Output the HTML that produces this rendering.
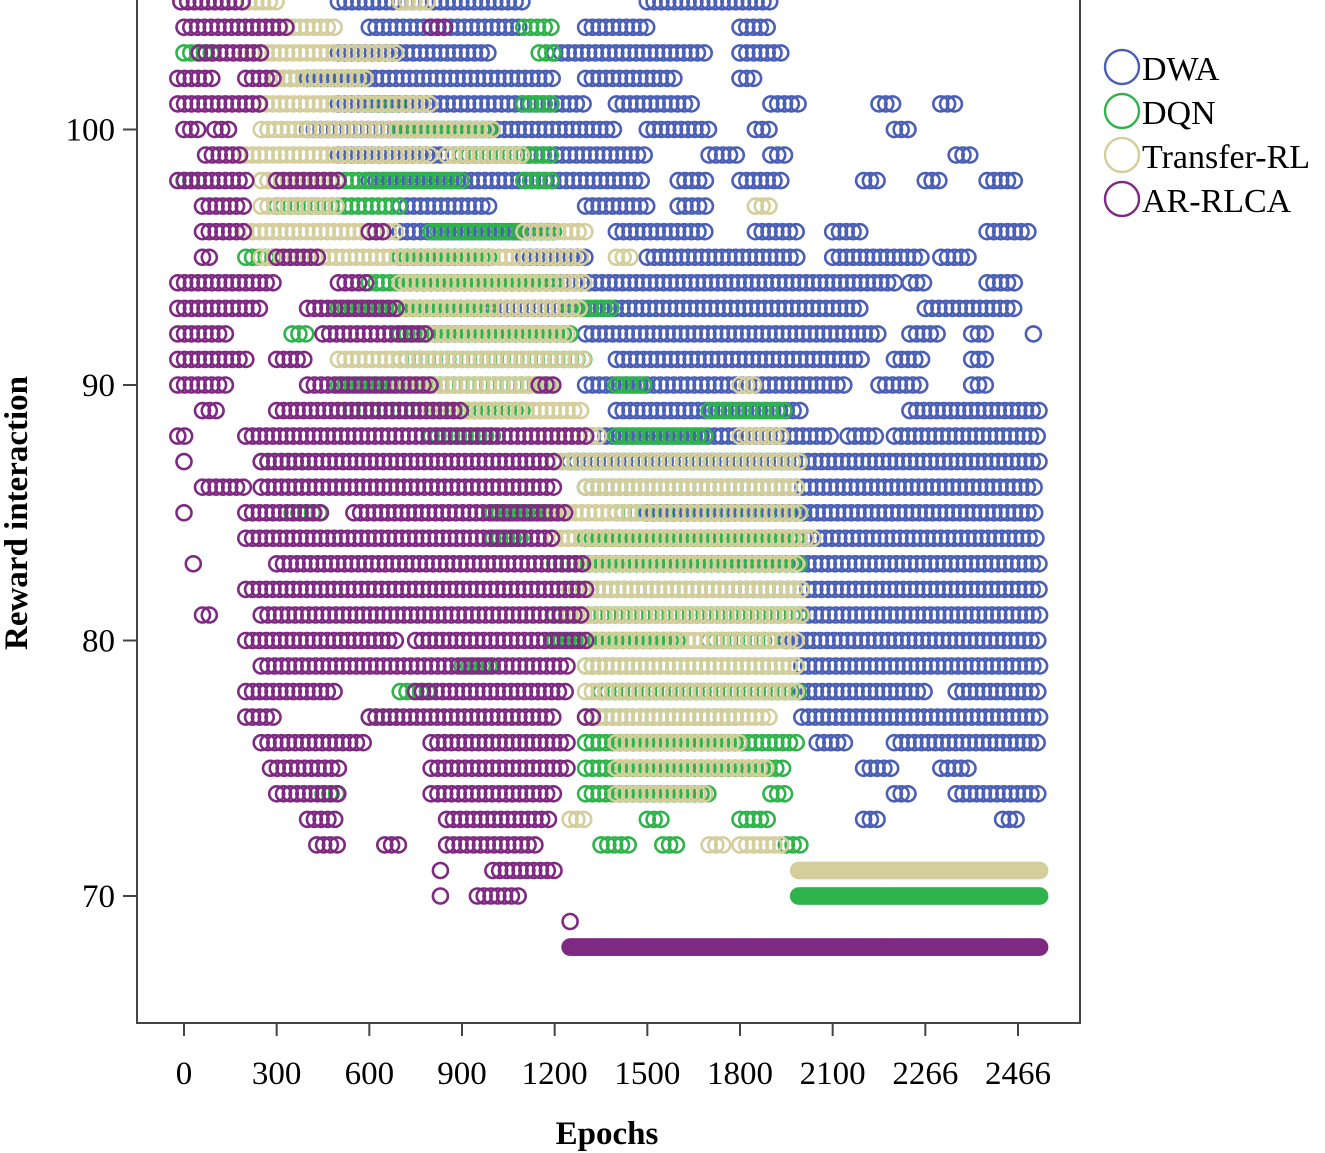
<!DOCTYPE html>
<html><head><meta charset="utf-8"><style>
body{margin:0;background:#fff}
svg{display:block;font-family:"Liberation Serif",serif}
</style></head><body>
<svg id="chart" width="1325" height="1153" viewBox="0 0 1325 1153">
<rect x="137" y="-1" width="943" height="1024" fill="#fff" stroke="#444" stroke-width="2"/>
<g id="marks"></g>
<g id="axes"></g>
<text transform="translate(27,513) rotate(-90)" text-anchor="middle" font-size="33" font-weight="bold">Reward interaction</text>
<text x="607" y="1144" text-anchor="middle" font-size="33" font-weight="bold">Epochs</text>
<g id="legend"></g>
</svg>
<script>
const seriesNames=["DWA","DQN","Transfer-RL","AR-RLCA"];
const seriesColors=["#4a5fb5","#2fb44b","#d4ce9c","#7f2a82"];
const xTickValues=[0,300,600,900,1200,1500,1800,2100,2400,2700];
const xTickLabels=["0","300","600","900","1200","1500","1800","2100","2266","2466"];
const yTickValues=[70,80,90,100];
// per series: rows of [rewardValue, [[epochStart,epochEnd],...]]
const dwaRows=[[105,[[500,1100],[1500,1900]]],[104,[[600,1100],[1300,1500],[1800,1900]]],[103,[[500,1000],[1200,1700],[1800,1950]]],[102,[[400,1200],[1300,1600],[1800,1850]]],[101,[[500,1300],[1400,1650],[1900,2000],[2250,2300],[2450,2500]]],[100,[[400,1400],[1500,1700],[1850,1900],[2300,2350]]],[99,[[500,1500],[1700,1800],[1900,1950],[2500,2550]]],[98,[[600,1500],[1600,1700],[1800,1950],[2200,2250],[2400,2450],[2600,2700]]],[97,[[700,1000],[1300,1500],[1600,1700]]],[96,[[700,1200],[1400,1700],[1850,2000],[2100,2200],[2600,2750]]],[95,[[1100,1300],[1500,2000],[2100,2400],[2450,2550]]],[94,[[1200,2300],[2350,2400],[2600,2700]]],[93,[[1000,2200],[2400,2700]]],[92,[[1300,2250],[2350,2450],[2550,2600],[2750,2770]]],[91,[[1400,2200],[2300,2400],[2550,2600]]],[90,[[1300,2150],[2250,2400],[2550,2600]]],[89,[[1400,2000],[2350,2770]]],[88,[[1300,2100],[2150,2250],[2300,2770]]],[87,[[1250,2770]]],[86,[[1300,2770]]],[85,[[1500,2770]]],[84,[[1900,2770]]],[83,[[1800,2770]]],[82,[[1800,2770]]],[81,[[2000,2770]]],[80,[[1950,2770]]],[79,[[2000,2770]]],[78,[[2000,2400],[2500,2770]]],[77,[[2000,2770]]],[76,[[2050,2150],[2300,2770]]],[75,[[2200,2300],[2450,2550]]],[74,[[2300,2350],[2500,2770]]],[73,[[2200,2250],[2650,2700]]]];
const dqnRows=[[104,[[1100,1200]]],[103,[[0,100],[1150,1200]]],[102,[[300,600]]],[101,[[600,700],[1100,1200]]],[100,[[700,1000]]],[99,[[900,1200]]],[98,[[0,50],[500,900],[1100,1200]]],[97,[[300,700]]],[96,[[800,1200]]],[95,[[200,300],[700,1000]]],[94,[[600,1200]]],[93,[[500,1000],[1250,1400]]],[92,[[350,400],[700,1250]]],[91,[[700,1300]]],[90,[[500,1200],[1400,1500]]],[89,[[500,1100],[1700,1950]]],[88,[[800,1000],[1400,1700]]],[87,[[250,400],[1200,2000]]],[86,[[1300,2000]]],[85,[[350,450],[1000,1200],[1400,2000]]],[84,[[1000,1100],[1300,2000]]],[83,[[1200,2000]]],[82,[[1250,2000]]],[81,[[1200,2000]]],[80,[[1200,1600],[1700,1900]]],[79,[[900,1000],[1300,2000]]],[78,[[700,800],[1350,2000]]],[77,[[600,700],[1300,1800]]],[76,[[1300,2000]]],[75,[[1300,1950]]],[74,[[450,500],[1300,1700],[1900,1950]]],[73,[[1500,1550],[1800,1900]]],[72,[[1350,1450],[1550,1600],[1950,2000]]],[70,[[1990,2770]]]];
const transferRows=[[105,[[-10,300],[700,800]]],[104,[[200,500]]],[103,[[200,700]]],[102,[[300,600]]],[101,[[200,800]]],[100,[[250,1000]]],[99,[[200,800],[850,1100]]],[98,[[250,500]]],[97,[[250,500],[1850,1900]]],[96,[[200,700],[1100,1300]]],[95,[[250,1300],[1400,1450]]],[94,[[700,1300]]],[93,[[400,1300]]],[92,[[800,1250]]],[91,[[500,1300]]],[90,[[700,1200],[1800,1850]]],[89,[[800,1300]]],[88,[[1100,1350],[1800,1950]]],[87,[[1200,2000]]],[86,[[1300,2000]]],[85,[[1200,2000]]],[84,[[1200,2050]]],[83,[[1300,2000]]],[82,[[1250,2000]]],[81,[[1250,2000]]],[80,[[1300,2000]]],[79,[[1300,2000]]],[78,[[1300,2000]]],[77,[[1300,1900]]],[76,[[1400,1800]]],[75,[[1400,1900]]],[74,[[1400,1700]]],[73,[[1250,1300]]],[72,[[1700,1750],[1800,1950]]],[71,[[1990,2770]]]];
const arRows=[[105,[[-10,200]]],[104,[[0,350],[800,850]]],[103,[[50,250]]],[102,[[-20,100],[200,300]]],[101,[[-20,250]]],[100,[[0,50],[100,150]]],[99,[[70,200]]],[98,[[-20,200],[300,500]]],[97,[[60,200]]],[96,[[60,200],[600,650]]],[95,[[60,100],[300,450]]],[94,[[-20,300],[500,600]]],[93,[[-20,250],[400,700]]],[92,[[-20,150],[450,800]]],[91,[[-20,200],[300,400]]],[90,[[-20,150],[400,800],[1150,1200]]],[89,[[60,120],[300,900]]],[88,[[-20,20],[200,1300]]],[87,[[0,20],[250,1200]]],[86,[[60,200],[250,1200]]],[85,[[0,20],[200,450],[550,1250]]],[84,[[200,1200]]],[83,[[30,50],[300,1300]]],[82,[[200,1300]]],[81,[[60,100],[250,1300]]],[80,[[200,700],[750,1300]]],[79,[[250,1250]]],[78,[[200,500],[750,1250]]],[77,[[200,300],[600,1200],[1300,1330]]],[76,[[250,600],[800,1250]]],[75,[[280,500],[800,1250]]],[74,[[300,500],[800,1200]]],[73,[[400,500],[850,1200]]],[72,[[430,500],[650,700],[850,1150]]],[71,[[830,850],[1000,1200]]],[70,[[830,850],[950,1100]]],[69,[[1250,1270]]],[68,[[1250,2770]]]];
const allRows=[dwaRows,dqnRows,transferRows,arRows];
const NS="http://www.w3.org/2000/svg";
function xScale(e){return 184+e*(834/2700);}
function yScale(v){return 896-(v-70)*25.55;}
const marks=document.getElementById('marks');
allRows.forEach((rows,si)=>{
  const g=document.createElementNS(NS,'g');
  
  
  g.setAttribute('fill','none');g.setAttribute('stroke',seriesColors[si]);g.setAttribute('stroke-width','2.6');
  rows.forEach(([v,segs])=>{
    segs.forEach(([a,b])=>{
      const step=(v<72 && b-a>500)?5:22;
      for(let e=a;e<=b;e+=step){
        const c=document.createElementNS(NS,'circle');
        
        
        c.setAttribute('cx',xScale(e).toFixed(1));c.setAttribute('cy',yScale(v).toFixed(1));c.setAttribute('r','7.5');
        g.appendChild(c);
      }
    });
  });
  marks.appendChild(g);
});
const axes=document.getElementById('axes');
xTickValues.forEach((t,i)=>{
  const x=xScale(t);
  const l=document.createElementNS(NS,'line');
  
  
  l.setAttribute('x1',x);l.setAttribute('x2',x);l.setAttribute('y1',1023);l.setAttribute('y2',1036);l.setAttribute('stroke','#444');l.setAttribute('stroke-width','2');
  axes.appendChild(l);
  const tx=document.createElementNS(NS,'text');
  
  
  tx.setAttribute('x',x);tx.setAttribute('y',1084);tx.setAttribute('text-anchor','middle');tx.setAttribute('font-size','33');
  tx.textContent=xTickLabels[i];axes.appendChild(tx);
});
yTickValues.forEach(t=>{
  const y=yScale(t);
  const l=document.createElementNS(NS,'line');
  
  
  l.setAttribute('x1',123);l.setAttribute('x2',137);l.setAttribute('y1',y);l.setAttribute('y2',y);l.setAttribute('stroke','#444');l.setAttribute('stroke-width','2');
  axes.appendChild(l);
  const tx=document.createElementNS(NS,'text');
  
  
  tx.setAttribute('x',115);tx.setAttribute('y',y+11);tx.setAttribute('text-anchor','end');tx.setAttribute('font-size','33');
  tx.textContent=t;axes.appendChild(tx);
});
const legend=document.getElementById('legend');
seriesNames.forEach((n,i)=>{
  const y=67+i*44;
  const c=document.createElementNS(NS,'circle');
  
  
  c.setAttribute('cx',1122);c.setAttribute('cy',y);c.setAttribute('r',17);c.setAttribute('fill','none');c.setAttribute('stroke',seriesColors[i]);c.setAttribute('stroke-width','2.4');
  legend.appendChild(c);
  const t=document.createElementNS(NS,'text');
  
  
  t.setAttribute('x',1142);t.setAttribute('y',y+13);t.setAttribute('font-size','34');
  t.textContent=n;legend.appendChild(t);
});
</script>
</body></html>
